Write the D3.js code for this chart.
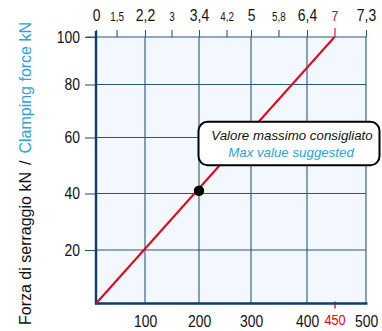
<!DOCTYPE html>
<html>
<head>
<meta charset="utf-8">
<script src="https://cdn.jsdelivr.net/npm/d3@7"></script>
<style>
  html, body { margin: 0; padding: 0; background: #ffffff; }
  svg { display: block; }
  text { font-family: "Liberation Sans", Arial, sans-serif; }
</style>
</head>
<body>
<svg id="chart" width="382" height="331"></svg>
<script>
// Torque (bottom axis) vs clamping force (left axis)
const torqueTicks = [100, 200, 300, 400, 450, 500];
const forceTicks = [20, 40, 60, 80, 100];

// Secondary scale along the top, placed at the equivalent torque
const topLabels = ["0", "1,5", "2,2", "3", "3,4", "4,2", "5", "5,8", "6,4", "7", "7,3"];
const topAtTorque = [0, 42, 100, 149, 200, 253, 300, 349, 400, 450, 500];
const topMajor = [true, false, true, false, true, false, true, false, true, true, true];

// Characteristic line and the recommended maximum point
const lineTorque = [0, 450];
const lineForce = [0, 100];
const maxTorque = 450;
const pointTorque = [200];
const pointForce = [41];

const yTitleIt = "Forza di serraggio kN";
const yTitleEn = "Clamping force kN";
const noteIt = "Valore massimo consigliato";
const noteEn = "Max value suggested";

const NAVY = "#0d3d6e";
const GRID = "#2a5683";
const RED = "#e3001b";
const BLUE = "#29a4dd";
const SQUEEZE = 0.82;

const svg = d3.select("#chart");

// Grid cells on the drawing are slightly uneven, so the scales are piecewise
const x = d3.scaleLinear()
  .domain([0, 100, 200, 300, 400, 450, 500])
  .range([96, 145, 199, 251, 307, 334.5, 366]);
const y = d3.scaleLinear()
  .domain([0, 20, 40, 60, 80, 100])
  .range([303.5, 250, 193.5, 137.5, 84.5, 37]);

const [x0, x1] = [x(0), x(500)];
const [y0, y1] = [y(0), y(100)];

// plot background
svg.append("rect")
  .attr("x", x0).attr("y", y1)
  .attr("width", x1 - x0).attr("height", y0 - y1)
  .attr("fill", "#f2f8fd");

// grid
const grid = svg.append("g").attr("stroke", GRID).attr("stroke-width", 1.1);
grid.selectAll("line.v")
  .data([100, 200, 300, 400])
  .join("line").attr("class", "v")
  .attr("x1", d => x(d)).attr("x2", d => x(d))
  .attr("y1", y1).attr("y2", y0);
grid.selectAll("line.h")
  .data([20, 40, 60, 80])
  .join("line").attr("class", "h")
  .attr("x1", x0).attr("x2", x1)
  .attr("y1", d => y(d)).attr("y2", d => y(d));
// right border
grid.append("line")
  .attr("x1", x1).attr("x2", x1).attr("y1", y1).attr("y2", y0);

function squeeze(sel, anchorShift) {
  sel.attr("transform", `scale(${SQUEEZE},1)`);
  if (anchorShift) sel.attr("x", function () { return +d3.select(this).attr("x") / SQUEEZE; });
}

// top axis
const topAxis = d3.axisTop(x)
  .tickValues(topAtTorque)
  .tickSize(7)
  .tickPadding(9)
  .tickFormat((d, i) => topLabels[i]);
const gTop = svg.append("g").attr("transform", `translate(0,${y1})`).call(topAxis);
gTop.select(".domain").remove();
gTop.selectAll(".tick line").attr("stroke", GRID).attr("stroke-width", 1.1);
gTop.selectAll(".tick text")
  .attr("fill", "#111")
  .style("font-size", (d, i) => topLabels[i] === "7" ? "15px" : (topMajor[i] ? "17px" : "12px"))
  .call(squeeze, false);
gTop.selectAll(".tick").filter(d => d === maxTorque)
  .call(t => t.select("line").attr("stroke", RED).attr("y2", -9))
  .call(t => t.select("text").attr("fill", RED));
svg.append("line")
  .attr("x1", 86).attr("x2", x1).attr("y1", y1).attr("y2", y1)
  .attr("stroke", GRID).attr("stroke-width", 1.1);

// left axis
const leftAxis = d3.axisLeft(y)
  .tickValues(forceTicks)
  .tickSize(11)
  .tickPadding(5);
const gLeft = svg.append("g").attr("transform", `translate(${x0},0)`).call(leftAxis);
gLeft.select(".domain").remove();
gLeft.selectAll(".tick line").attr("stroke", GRID).attr("stroke-width", 1.1);
gLeft.selectAll(".tick text")
  .attr("fill", "#111")
  .style("font-size", "17px")
  .call(squeeze, true);

// bottom axis
const bottomAxis = d3.axisBottom(x)
  .tickValues(torqueTicks)
  .tickSize(0)
  .tickPadding(11);
const gBottom = svg.append("g").attr("transform", `translate(0,${y0})`).call(bottomAxis);
gBottom.select(".domain").remove();
gBottom.selectAll(".tick text")
  .attr("fill", "#111")
  .style("font-size", "17px")
  .call(squeeze, false);
gBottom.selectAll(".tick").filter(d => d === maxTorque)
  .call(t => t.select("line").attr("stroke", RED).attr("stroke-width", 1.3).attr("y1", -2).attr("y2", 5))
  .call(t => t.select("text").attr("fill", RED).style("font-size", "15.5px"));

// main axis lines
svg.append("line")
  .attr("x1", x0).attr("x2", x0).attr("y1", 31).attr("y2", y0 + 1)
  .attr("stroke", NAVY).attr("stroke-width", 2.4);
svg.append("line")
  .attr("x1", x0 - 1).attr("x2", x(500) + 1.5).attr("y1", y0).attr("y2", y0)
  .attr("stroke", NAVY).attr("stroke-width", 2.4);

// characteristic line
svg.append("path")
  .datum(lineTorque.map((t, i) => [t, lineForce[i]]))
  .attr("fill", "none")
  .attr("stroke", RED)
  .attr("stroke-width", 2)
  .attr("d", d3.line().x(d => x(d[0])).y(d => y(d[1])));

// point
svg.selectAll("circle.pt")
  .data(pointTorque.map((t, i) => [t, pointForce[i]]))
  .join("circle").attr("class", "pt")
  .attr("cx", d => x(d[0])).attr("cy", d => y(d[1]))
  .attr("r", 5.2)
  .attr("fill", "#000");

// note box
const note = svg.append("g");
note.append("rect")
  .attr("x", 198.5).attr("y", 121.8)
  .attr("width", 181).attr("height", 43.5)
  .attr("rx", 9).attr("ry", 9)
  .attr("fill", "#ffffff")
  .attr("stroke", "#000")
  .attr("stroke-width", 2);
note.append("text")
  .attr("x", 292).attr("y", 140)
  .attr("text-anchor", "middle")
  .style("font-size", "13.3px").style("font-style", "italic")
  .attr("fill", "#111")
  .text(noteIt);
note.append("text")
  .attr("x", 291).attr("y", 156.5)
  .attr("text-anchor", "middle")
  .style("font-size", "13.3px").style("font-style", "italic")
  .attr("fill", BLUE)
  .text(noteEn);

// y title
const yTitle = svg.append("text")
  .attr("transform", "translate(31,325) rotate(-90)")
  .attr("text-anchor", "start")
  .style("font-size", "16px");
yTitle.append("tspan").attr("fill", "#111").text(yTitleIt);
yTitle.append("tspan").attr("fill", "#111").attr("dx", 7).text("/");
yTitle.append("tspan").attr("fill", BLUE).attr("dx", 7).text(yTitleEn);
</script>
</body>
</html>
